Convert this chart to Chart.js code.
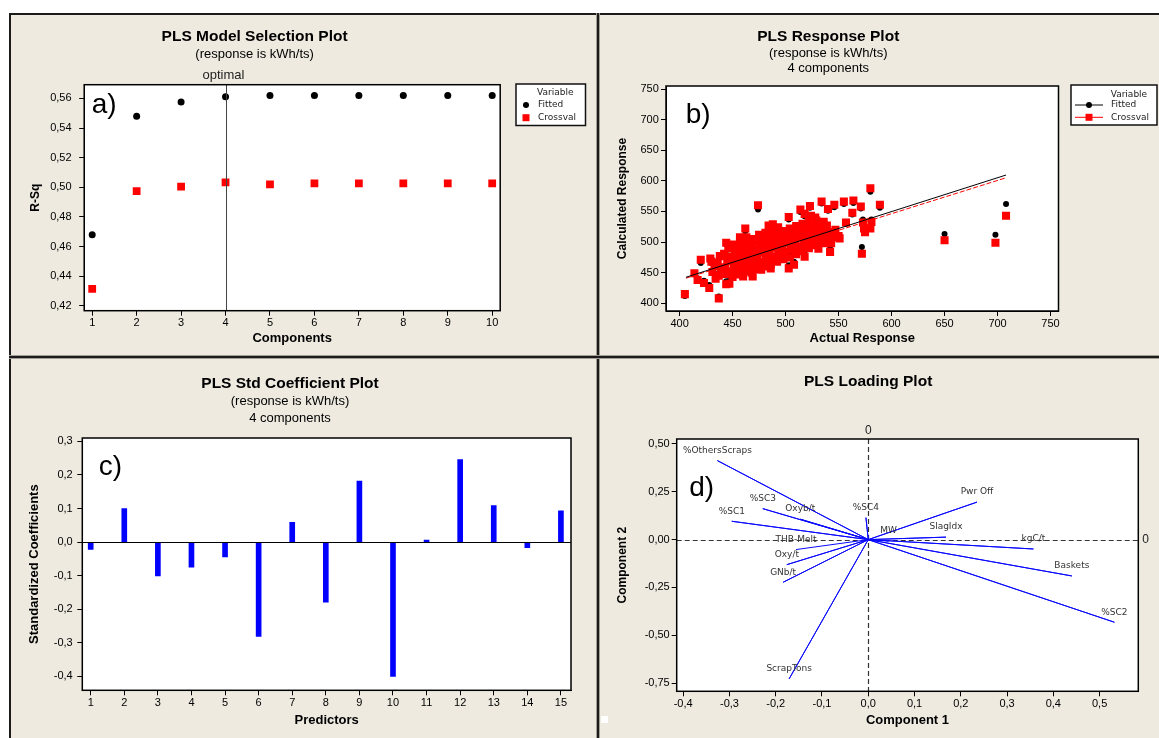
<!DOCTYPE html>
<html>
<head>
<meta charset="utf-8">
<title>PLS plots</title>
<script src="https://cdn.jsdelivr.net/npm/chart.js@4.4.1/dist/chart.umd.min.js"></script>
<style>
  body { margin: 0; background: #fff; }
  #fig { position: relative; width: 1159px; height: 738px; overflow: hidden; background: #fff; }
  #bg { position: absolute; left: 9px; top: 13px; width: 1170px; height: 740px; background: #eeeae0;
        border-left: 2px solid #1b1b1b; border-top: 2px solid #1b1b1b; box-sizing: border-box; }
  canvas { position: absolute; }
  .vdiv { position: absolute; left: 596px; top: 13px; width: 4px; height: 730px;
          background: linear-gradient(to right, #a19d93 0 1px, #1b1b1b 1px 3px, #a19d93 3px 4px); }
  .hdiv { position: absolute; left: 9px; top: 355px; width: 1160px; height: 4px;
          background: linear-gradient(to bottom, #a19d93 0 1px, #1b1b1b 1px 3px, #a19d93 3px 4px); }
  #dot { position: absolute; left: 601px; top: 716px; width: 7px; height: 7px; background: #fff; }
</style>
</head>
<body>
<div id="fig">
  <div id="bg"></div>
  <canvas id="chartA" width="589" height="344" style="left:9px;top:13px"></canvas>
  <canvas id="chartB" width="572" height="344" style="left:598px;top:13px"></canvas>
  <canvas id="chartC" width="589" height="381" style="left:9px;top:357px"></canvas>
  <canvas id="chartD" width="572" height="381" style="left:598px;top:357px"></canvas>
  <div class="vdiv"></div>
  <div class="hdiv"></div>
  <div id="dot"></div>
</div>
<script>
// ---- a) model selection ----
const components = [1, 2, 3, 4, 5, 6, 7, 8, 9, 10];
const rsqFitted = [0.468, 0.548, 0.5575, 0.561, 0.562, 0.562, 0.562, 0.562, 0.562, 0.562];
const rsqCrossval = [0.4315, 0.4975, 0.5004, 0.5034, 0.502, 0.5027, 0.5027, 0.5027, 0.5027, 0.5027];
const rsqTicks = [0.42, 0.44, 0.46, 0.48, 0.50, 0.52, 0.54, 0.56];
const optimalComp = 4;

// ---- b) response plot (actual vs calculated) ----
const actualResp = [
  405, 437, 474, 580, 589, 572, 650, 698, 708,
  462, 457, 444, 488, 484, 503, 514, 518, 523, 534,
  529, 540, 546, 555, 564, 571, 563, 557, 573, 581,
  575, 551, 538, 542, 527, 518, 524, 550, 574, 580,
  428, 444, 414, 420, 417, 423, 429, 434,
  469, 460, 450, 486, 477, 503, 508, 447,
  431, 433, 430, 437, 439, 436, 438, 444, 443, 445,
  442, 446, 450, 451, 449, 452, 450, 456, 457, 455,
  458, 456, 457, 462, 463, 461, 464, 462, 463, 468,
  469, 467, 470, 468, 469, 474, 475, 473, 476, 474,
  475, 480, 481, 479, 482, 480, 481, 486, 487, 485,
  488, 486, 487, 492, 493, 491, 494, 492, 493, 498,
  499, 497, 500, 498, 504, 505, 503, 506, 504, 510,
  511, 509, 512, 510, 516, 517, 515, 518, 516, 522,
  523, 521, 524, 522, 528, 529, 527, 530, 528, 534,
  535, 533, 536, 540, 541, 539, 546, 547,
  447, 453, 459, 465, 471, 477, 483, 489, 495, 501, 507, 513,
  519, 525, 531, 537, 459, 471, 483, 495, 507, 519, 531, 543
];
const crossvalResp = [
  415, 408, 560, 588, 561, 481, 503, 499, 543,
  522, 508, 499, 529, 527, 541, 553, 546, 559, 566,
  535, 554, 561, 566, 568, 558, 548, 532, 532, 533,
  516, 506, 498, 484, 520, 476, 543, 510, 522, 522,
  425, 431, 449, 471, 438, 433, 473, 440,
  444, 444, 443, 457, 455, 457, 463, 432,
  451, 461, 468, 445, 456, 466, 477, 448, 459, 470,
  481, 490, 452, 463, 474, 486, 496, 447, 458, 470,
  481, 493, 503, 452, 464, 476, 488, 499, 508, 450,
  460, 471, 483, 494, 505, 456, 467, 479, 490, 501,
  512, 460, 471, 483, 495, 506, 515, 464, 476, 488,
  499, 510, 520, 468, 480, 492, 503, 514, 524, 472,
  484, 496, 507, 518, 475, 488, 500, 511, 522, 480,
  492, 503, 514, 526, 485, 497, 508, 519, 530, 490,
  501, 512, 523, 534, 495, 506, 517, 528, 540, 500,
  511, 522, 533, 505, 516, 527, 508, 520,
  476, 480, 487, 482, 488, 496, 500, 505, 509, 514, 517, 520,
  525, 510, 515, 520, 465, 465, 478, 487, 494, 502, 489, 498
];
const fittedResp = [
  412, 411, 553, 582, 556, 492, 513, 512, 562,
  518, 505, 496, 526, 522, 537, 549, 542, 556, 563,
  533, 551, 557, 562, 564, 555, 545, 530, 537, 537,
  524, 506, 501, 489, 518, 481, 540, 511, 527, 526,
  430, 436, 447, 466, 441, 437, 470, 444,
  448, 447, 446, 461, 459, 462, 468, 437,
  454, 462, 466, 449, 458, 467, 476, 451, 461, 471,
  480, 488, 455, 465, 474, 485, 494, 451, 461, 471,
  481, 491, 500, 456, 466, 477, 487, 497, 505, 455,
  463, 473, 483, 493, 503, 460, 470, 480, 490, 500,
  509, 464, 474, 484, 494, 504, 512, 468, 478, 489,
  498, 508, 517, 472, 482, 492, 502, 512, 521, 476,
  486, 496, 506, 516, 479, 490, 500, 510, 520, 484,
  494, 504, 513, 523, 489, 499, 508, 518, 527, 494,
  503, 512, 522, 531, 499, 508, 517, 527, 537, 504,
  513, 522, 532, 509, 518, 527, 512, 521,
  477, 479, 486, 482, 488, 495, 499, 503, 508, 512, 515, 519,
  524, 511, 516, 521, 467, 468, 480, 488, 495, 504, 493, 501
];
const fitLineX = [406, 708];
const fitLineFitted = [442.5, 609.5];
const fitLineCrossval = [441, 605];
const respTicks = [400, 450, 500, 550, 600, 650, 700, 750];

// ---- c) standardized coefficients ----
const predictorIdx = [1, 2, 3, 4, 5, 6, 7, 8, 9, 10, 11, 12, 13, 14, 15];
const stdCoef = [-0.022, 0.100, -0.101, -0.075, -0.044, -0.281, 0.059, -0.179, 0.182, -0.400, 0.006, 0.246, 0.109, -0.017, 0.093];
const coefTicks = [-0.4, -0.3, -0.2, -0.1, 0, 0.1, 0.2, 0.3];

// ---- d) loadings ----
const predictorNames = ['%OthersScraps', '%SC1', '%SC2', '%SC3', '%SC4', 'Baskets', 'GNb/t', 'kgC/t',
  'MW', 'Oxy/t', 'Oxyb/t', 'Pwr Off', 'ScrapTons', 'SlagIdx', 'THB-Melt'];
const load1 = [-0.326, -0.295, 0.532, -0.228, -0.005, 0.440, -0.184, 0.357, 0.044, -0.176, -0.147, 0.235, -0.171, 0.168, -0.156];
const load2 = [0.413, 0.096, -0.432, 0.162, 0.115, -0.190, -0.223, -0.049, -0.007, -0.131, 0.107, 0.196, -0.728, 0.013, -0.052];
const comp1Ticks = [-0.4, -0.3, -0.2, -0.1, 0, 0.1, 0.2, 0.3, 0.4, 0.5];
const comp2Ticks = [-0.75, -0.5, -0.25, 0, 0.25, 0.5];

Chart.defaults.font.family = '"Liberation Sans", Arial, sans-serif';
Chart.defaults.color = '#000';
Chart.defaults.animation = false;

const comma = d => v => v.toFixed(d).replace('.', ',');
const smallFont = '9px "DejaVu Sans", sans-serif';

// axis in Minitab style: outside ticks, fixed size so plot areas line up
function axis(o) {
  return {
    type: 'linear',
    min: o.min,
    max: o.max,
    offset: false,
    afterBuildTicks: s => { s.ticks = o.ticks.map(v => ({ value: v })); },
    afterFit: s => {
      if (o.width) s.width = o.width;
      if (o.height) s.height = o.height;
    },
    grid: { drawOnChartArea: false, offset: false, color: '#000', tickColor: '#000', tickLength: 5 },
    border: { color: '#000', width: 1 },
    ticks: { font: { size: 11 }, color: '#000', padding: o.pad, autoSkip: false, maxRotation: 0,
      callback: o.fmt || (v => String(v)) },
    title: { display: true, text: o.title, color: '#000',
      font: { size: o.titleSize || 13, weight: 'bold' }, padding: o.titlePad }
  };
}

// white plot area with a black box around it
const plotFrame = {
  id: 'plotFrame',
  beforeDraw(chart) {
    const { ctx, chartArea: a } = chart;
    ctx.save();
    ctx.fillStyle = '#fff';
    ctx.fillRect(a.left, a.top, a.width, a.height);
    ctx.restore();
  },
  afterDraw(chart) {
    const { ctx, chartArea: a } = chart;
    ctx.save();
    ctx.strokeStyle = '#000';
    ctx.lineWidth = 1.5;
    ctx.strokeRect(a.left, a.top, a.width, a.height);
    ctx.restore();
  }
};

// big "a)" "b)" ... letters
const panelTag = {
  id: 'panelTag',
  afterDatasetsDraw(chart, args, o) {
    const { ctx, chartArea: a } = chart;
    ctx.save();
    ctx.font = '28px "Liberation Sans", Arial, sans-serif';
    ctx.fillStyle = '#000';
    ctx.textBaseline = 'alphabetic';
    ctx.fillText(o.text, a.left + o.dx, a.top + o.dy);
    ctx.restore();
  }
};

// boxed legend with "Variable" header
const boxLegend = {
  id: 'boxLegend',
  afterDraw(chart, args, o) {
    const { ctx, chartArea: a } = chart;
    const x0 = a.right + o.dx, y0 = a.top + o.dy;
    ctx.save();
    ctx.fillStyle = '#fff';
    ctx.fillRect(x0, y0, o.w, o.h);
    ctx.strokeStyle = '#111';
    ctx.lineWidth = 1.5;
    ctx.strokeRect(x0, y0, o.w, o.h);
    ctx.font = smallFont;
    ctx.textBaseline = 'middle';
    ctx.fillStyle = '#222';
    ctx.fillText('Variable', x0 + o.titleX, y0 + o.titleY);
    o.items.forEach((it, i) => {
      const y = y0 + o.rowY + i * o.rowGap;
      if (it.line) {
        ctx.strokeStyle = it.color;
        ctx.lineWidth = 1;
        ctx.beginPath();
        ctx.moveTo(x0 + o.lineFrom, y);
        ctx.lineTo(x0 + o.lineTo, y);
        ctx.stroke();
      }
      ctx.fillStyle = it.color;
      ctx.beginPath();
      if (it.shape === 'rect') ctx.rect(x0 + o.markX - 3.5, y - 3.5, 7, 7);
      else ctx.arc(x0 + o.markX, y, 3, 0, Math.PI * 2);
      ctx.fill();
      ctx.fillStyle = '#222';
      ctx.fillText(it.text, x0 + o.textX, y);
    });
    ctx.restore();
  }
};

// a) vertical line at the chosen number of components
const optimalLine = {
  id: 'optimalLine',
  afterDatasetsDraw(chart) {
    const { ctx, chartArea: a, scales } = chart;
    const x = Math.round(scales.x.getPixelForValue(optimalComp)) + 0.5;
    ctx.save();
    ctx.strokeStyle = '#444';
    ctx.lineWidth = 1;
    ctx.beginPath();
    ctx.moveTo(x, a.top);
    ctx.lineTo(x, a.bottom);
    ctx.stroke();
    ctx.font = '13px "Liberation Sans", Arial, sans-serif';
    ctx.fillStyle = '#222';
    ctx.textAlign = 'center';
    ctx.textBaseline = 'middle';
    ctx.fillText('optimal', x - 3, a.top - 9);
    ctx.restore();
  }
};

// c) zero line
const zeroLine = {
  id: 'zeroLine',
  afterDatasetsDraw(chart) {
    const { ctx, chartArea: a, scales } = chart;
    const y = Math.round(scales.y.getPixelForValue(0)) + 0.5;
    ctx.save();
    ctx.strokeStyle = '#000';
    ctx.lineWidth = 1;
    ctx.beginPath();
    ctx.moveTo(a.left, y);
    ctx.lineTo(a.right, y);
    ctx.stroke();
    ctx.restore();
  }
};

// d) dashed reference lines and predictor names
const loadingMarks = {
  id: 'loadingMarks',
  beforeDatasetsDraw(chart) {
    const { ctx, chartArea: a, scales } = chart;
    const x0 = Math.round(scales.x.getPixelForValue(0)) + 0.5;
    const y0 = Math.round(scales.y.getPixelForValue(0)) + 0.5;
    ctx.save();
    ctx.strokeStyle = '#333';
    ctx.lineWidth = 1.2;
    ctx.setLineDash([5, 3]);
    ctx.beginPath();
    ctx.moveTo(x0, a.top);
    ctx.lineTo(x0, a.bottom);
    ctx.moveTo(a.left, y0);
    ctx.lineTo(a.right, y0);
    ctx.stroke();
    ctx.restore();
  },
  afterDatasetsDraw(chart) {
    const { ctx, chartArea: a, scales } = chart;
    ctx.save();
    ctx.font = smallFont;
    ctx.fillStyle = '#333';
    ctx.textAlign = 'center';
    ctx.textBaseline = 'middle';
    predictorNames.forEach((name, i) => {
      ctx.fillText(name, scales.x.getPixelForValue(load1[i]), scales.y.getPixelForValue(load2[i]) - 10);
    });
    ctx.font = '12px "Liberation Sans", Arial, sans-serif';
    ctx.fillStyle = '#222';
    ctx.fillText('0', scales.x.getPixelForValue(0), a.top - 8);
    ctx.textAlign = 'left';
    ctx.fillText('0', a.right + 4, scales.y.getPixelForValue(0));
    ctx.restore();
  }
};

const titleOpts = (text, top, bottom) => ({
  display: true, text, color: '#000',
  font: { size: 15.5, weight: 'bold' }, padding: { top, bottom: bottom || 0 }
});
const subOpts = (text, lh, bottom) => ({
  display: true, text, color: '#000',
  font: { size: 13, lineHeight: lh }, padding: { top: 0, bottom }
});

// ---- a) ----
new Chart(document.getElementById('chartA'), {
  type: 'scatter',
  data: {
    datasets: [
      { label: 'Crossval', data: components.map((c, i) => ({ x: c, y: rsqCrossval[i] })),
        pointStyle: 'rect', pointRadius: 5.5, pointBorderWidth: 0, backgroundColor: '#ff0000' },
      { label: 'Fitted', data: components.map((c, i) => ({ x: c, y: rsqFitted[i] })),
        pointStyle: 'circle', pointRadius: 3.5, pointBorderWidth: 0, backgroundColor: '#000' }
    ]
  },
  options: {
    responsive: false,
    layout: { padding: { left: 0, right: 97.8, top: 0, bottom: 0 } },
    plugins: {
      legend: { display: false },
      tooltip: { enabled: false },
      title: titleOpts('PLS Model Selection Plot', 14.7),
      subtitle: subOpts('(response is kWh/ts)', 1.2, 22.8),
      panelTag: { text: 'a)', dx: 7.6, dy: 28.5 },
      boxLegend: { dx: 15.8, dy: -0.7, w: 69.5, h: 41.5, titleX: 21, titleY: 8.3, rowY: 21, rowGap: 12.7,
        markX: 10, textX: 22,
        items: [{ text: 'Fitted', color: '#000', shape: 'circle' }, { text: 'Crossval', color: '#ff0000', shape: 'rect' }] }
    },
    scales: {
      x: axis({ min: 0.82, max: 10.18, ticks: components, height: 46.3, pad: 1,
        title: 'Components', titlePad: { top: 0, bottom: 11.2 } }),
      y: axis({ min: 0.4168, max: 0.5692, ticks: rsqTicks, width: 75.2, pad: 7.6, fmt: comma(2),
        title: 'R-Sq', titleSize: 12, titlePad: { top: 19.8, bottom: 0 } })
    }
  },
  plugins: [plotFrame, optimalLine, panelTag, boxLegend]
});

// ---- b) ----
new Chart(document.getElementById('chartB'), {
  type: 'scatter',
  data: {
    datasets: [
      { label: 'Fitted line', data: fitLineX.map((x, i) => ({ x, y: fitLineFitted[i] })), showLine: true,
        borderColor: '#000', borderWidth: 1, pointRadius: 0, order: 0 },
      { label: 'Crossval line', data: fitLineX.map((x, i) => ({ x, y: fitLineCrossval[i] })), showLine: true,
        borderColor: '#ff0000', borderWidth: 1, borderDash: [5, 2], pointRadius: 0, order: 0 },
      { label: 'Crossval', data: actualResp.map((x, i) => ({ x, y: crossvalResp[i] })),
        pointStyle: 'rect', pointRadius: 5.7, pointBorderWidth: 0, backgroundColor: '#ff0000', order: 1 },
      { label: 'Fitted', data: actualResp.map((x, i) => ({ x, y: fittedResp[i] })),
        pointStyle: 'circle', pointRadius: 3, pointBorderWidth: 0, backgroundColor: '#000', order: 2 }
    ]
  },
  options: {
    responsive: false,
    layout: { padding: { left: 0, right: 111.5, top: 0, bottom: 0 } },
    plugins: {
      legend: { display: false },
      tooltip: { enabled: false },
      title: titleOpts('PLS Response Plot', 14.7),
      subtitle: subOpts(['(response is kWh/ts)', '4 components'], 1.15, 9.8),
      panelTag: { text: 'b)', dx: 19.7, dy: 37 },
      boxLegend: { dx: 12.5, dy: -1, w: 86, h: 40, titleX: 39.7, titleY: 9.3, rowY: 20, rowGap: 12.3,
        lineFrom: 4, lineTo: 32, markX: 18, textX: 40,
        items: [{ text: 'Fitted', color: '#000', shape: 'circle', line: true },
                { text: 'Crossval', color: '#ff0000', shape: 'rect', line: true }] }
    },
    scales: {
      x: axis({ min: 387.2, max: 757.5, ticks: respTicks, height: 46, pad: 1,
        title: 'Actual Response', titlePad: { top: 0, bottom: 11.2 } }),
      y: axis({ min: 387.4, max: 754.9, ticks: respTicks, width: 68, pad: 2.2,
        title: 'Calculated Response', titleSize: 12, titlePad: { top: 17.8, bottom: 0 } })
    }
  },
  plugins: [plotFrame, panelTag, boxLegend]
});

// ---- c) ----
new Chart(document.getElementById('chartC'), {
  type: 'bar',
  data: {
    datasets: [{ label: 'Std coefficient', data: predictorIdx.map((p, i) => ({ x: p, y: stdCoef[i] })),
      backgroundColor: '#0000ff', barThickness: 5 }]
  },
  options: {
    responsive: false,
    layout: { padding: { left: 0, right: 27, top: 0, bottom: 0 } },
    plugins: {
      legend: { display: false },
      tooltip: { enabled: false },
      title: titleOpts('PLS Std Coefficient Plot', 17.7),
      subtitle: subOpts(['(response is kWh/ts)', '4 components'], 1.3, 10.9),
      panelTag: { text: 'c)', dx: 16.4, dy: 36.7 }
    },
    scales: {
      x: axis({ min: 0.75, max: 15.3, ticks: predictorIdx, height: 47.7, pad: 1,
        title: 'Predictors', titlePad: { top: 0, bottom: 10.2 } }),
      y: axis({ min: -0.4417, max: 0.31, ticks: coefTicks, width: 73.3, pad: 4.6, fmt: comma(1),
        title: 'Standardized Coefficients', titleSize: 13, titlePad: { top: 17.2, bottom: 0 } })
    }
  },
  plugins: [plotFrame, zeroLine, panelTag]
});

// ---- d) ----
const rayPts = [];
predictorNames.forEach((n, i) => {
  rayPts.push({ x: 0, y: 0 }, { x: load1[i], y: load2[i] });
});

new Chart(document.getElementById('chartD'), {
  type: 'scatter',
  data: {
    datasets: [{ label: 'Loadings', data: rayPts, showLine: true, borderColor: '#0a0aff', borderWidth: 1,
      pointRadius: 0 }]
  },
  options: {
    responsive: false,
    layout: { padding: { left: 0, right: 31.7, top: 0, bottom: 0 } },
    plugins: {
      legend: { display: false },
      tooltip: { enabled: false },
      title: titleOpts('PLS Loading Plot', 15.7, 47.7),
      subtitle: { display: false },
      panelTag: { text: 'd)', dx: 12.5, dy: 57.3 }
    },
    scales: {
      x: axis({ min: -0.414, max: 0.5836, ticks: comp1Ticks, height: 46.7, pad: 1, fmt: comma(1),
        title: 'Component 1', titlePad: { top: 0, bottom: 10.2 } }),
      y: axis({ min: -0.793, max: 0.526, ticks: comp2Ticks, width: 78.7, pad: 2, fmt: comma(2),
        title: 'Component 2', titleSize: 12, titlePad: { top: 17.8, bottom: 0 } })
    }
  },
  plugins: [plotFrame, loadingMarks, panelTag]
});
</script>
</body>
</html>
